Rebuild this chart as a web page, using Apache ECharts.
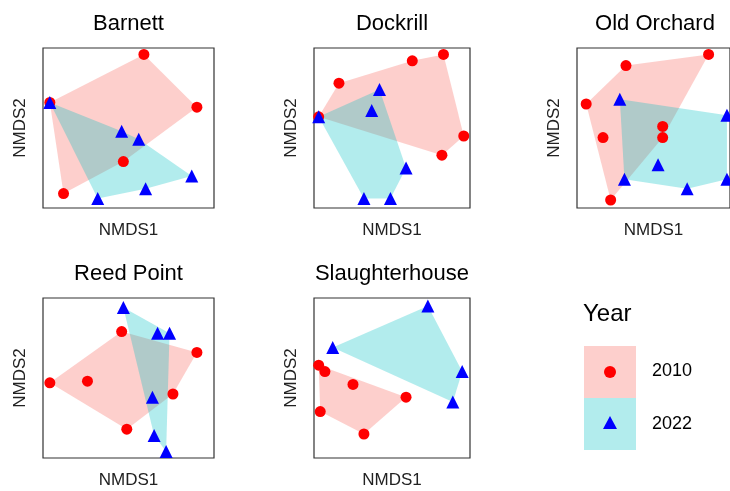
<!DOCTYPE html>
<html>
<head>
<meta charset="utf-8">
<script src="https://cdn.jsdelivr.net/npm/echarts@6/dist/echarts.min.js"></script>
<style>html,body,#main{width:730px;height:491px;margin:0;background:#fff}</style>
</head>
<body>
<div id="main"></div>
<script>
var sites = ['Barnett', 'Dockrill', 'Old Orchard', 'Reed Point', 'Slaughterhouse'];
var red = [
  [[59,96],[90,63],[47,29],[12,9],[4,66]],
  [[16,78],[63,92],[83,96],[96,45],[82,33],[3,57]],
  [[6,65],[32,89],[86,96],[17,44],[56,51],[56,44],[22,5]],
  [[4,47],[26,48],[46,79],[90,66],[76,40],[49,18]],
  [[3,58],[7,54],[25,46],[4,29],[32,15],[59,38]]
];
var blue = [
  [[4,66],[46,48],[56,43],[32,6],[60,12],[87,20]],
  [[3,57],[42,74],[37,61],[59,25],[32,6],[49,6]],
  [[28,68],[31,18],[53,27],[72,12],[98,58],[98,18]],
  [[47,94],[67,78],[74,78],[64,38],[65,14],[72,4]],
  [[12,69],[73,95],[95,54],[89,35]]
];
var boxes = [[43,48,171,160],[314,48,156,160],[577,48,156,160],[43,298,171,160],[314,298,156,160]];

function hull(pts) {
  var p = pts.slice().sort(function (a, b) { return a[0] - b[0] || a[1] - b[1]; });
  function cr(o, a, b) { return (a[0]-o[0])*(b[1]-o[1]) - (a[1]-o[1])*(b[0]-o[0]); }
  var lo = [], up = [];
  p.forEach(function (q) { while (lo.length >= 2 && cr(lo[lo.length-2], lo[lo.length-1], q) <= 0) lo.pop(); lo.push(q); });
  p.slice().reverse().forEach(function (q) { while (up.length >= 2 && cr(up[up.length-2], up[up.length-1], q) <= 0) up.pop(); up.push(q); });
  lo.pop(); up.pop();
  return lo.concat(up);
}

var grid = [], xAxis = [], yAxis = [], series = [], title = [];
sites.forEach(function (s, i) {
  var b = boxes[i];
  grid.push({left: b[0], top: b[1], width: b[2], height: b[3], show: true, borderColor: '#333', borderWidth: 1.2, backgroundColor: '#fff'});
  xAxis.push({gridIndex: i, min: 0, max: 100, name: 'NMDS1', nameLocation: 'middle', nameGap: 14,
    nameTextStyle: {fontSize: 17, color: '#222', fontFamily: 'Liberation Sans'},
    axisLine: {show: false}, axisTick: {show: false}, axisLabel: {show: false}, splitLine: {show: false}});
  yAxis.push({gridIndex: i, min: 0, max: 100, name: 'NMDS2', nameLocation: 'middle', nameGap: 14,
    nameTextStyle: {fontSize: 17, color: '#222', fontFamily: 'Liberation Sans'},
    axisLine: {show: false}, axisTick: {show: false}, axisLabel: {show: false}, splitLine: {show: false}});
  title.push({text: s, left: b[0] + b[2] / 2 - 5, top: b[1] - 40, textAlign: 'center',
    textStyle: {fontSize: 22, fontWeight: 'normal', color: '#000', fontFamily: 'Liberation Sans'}});
  [[red[i], 'rgba(248,118,109,0.35)'], [blue[i], 'rgba(0,191,196,0.3)']].forEach(function (g) {
    var h = hull(g[0]);
    series.push({type: 'custom', xAxisIndex: i, yAxisIndex: i, data: [0], silent: true,
      renderItem: function (params, api) {
        return {type: 'polygon', shape: {points: h.map(function (q) { return api.coord(q); })},
          style: {fill: g[1]}};
      }});
  });
  series.push({type: 'scatter', xAxisIndex: i, yAxisIndex: i, data: red[i], symbol: 'circle', symbolSize: 11, itemStyle: {color: '#ff0000', opacity: 1}, z: 3});
  series.push({type: 'scatter', xAxisIndex: i, yAxisIndex: i, data: blue[i], symbol: 'triangle', symbolSize: 13, itemStyle: {color: '#0000ff', opacity: 1}, z: 4});
});

var chart = echarts.init(document.getElementById('main'));
chart.setOption({
  animation: false,
  title: title, grid: grid, xAxis: xAxis, yAxis: yAxis, series: series,
  graphic: [
    {type: 'text', left: 583, top: 302, style: {text: 'Year', fontSize: 24, fill: '#000', fontFamily: 'Liberation Sans'}},
    {type: 'rect', left: 584, top: 346, shape: {width: 52, height: 52}, style: {fill: 'rgba(248,118,109,0.35)'}},
    {type: 'circle', left: 604, top: 366, shape: {r: 6}, style: {fill: '#ff0000'}},
    {type: 'text', left: 652, top: 362, style: {text: '2010', fontSize: 18, fill: '#000', fontFamily: 'Liberation Sans'}},
    {type: 'rect', left: 584, top: 398, shape: {width: 52, height: 52}, style: {fill: 'rgba(0,191,196,0.3)'}},
    {type: 'polygon', shape: {points: [[610, 416], [617, 429], [603, 429]]}, style: {fill: '#0000ff'}},
    {type: 'text', left: 652, top: 415, style: {text: '2022', fontSize: 18, fill: '#000', fontFamily: 'Liberation Sans'}}
  ]
});
</script>
</body>
</html>
